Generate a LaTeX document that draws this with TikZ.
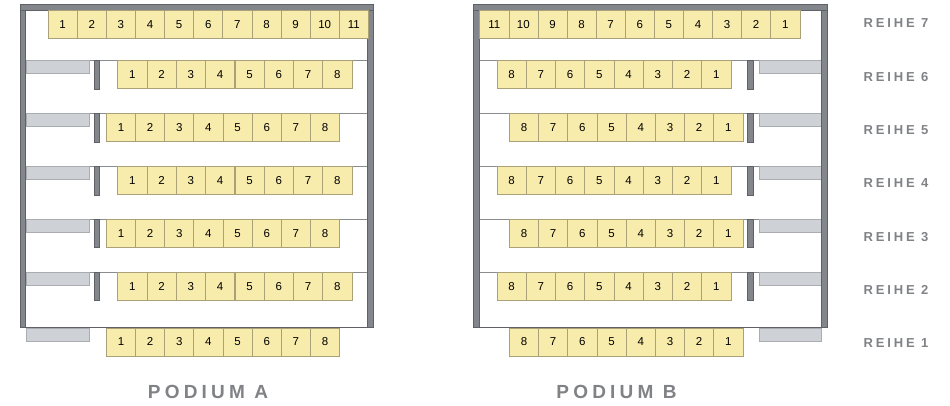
\documentclass[tikz,border=0pt]{standalone}
\usepackage{fontspec}
\setmainfont{Liberation Sans}
\newfontfamily\labelfont[LetterSpace=22]{Liberation Sans}
\newfontfamily\reihefont[LetterSpace=22]{Liberation Sans}
\definecolor{seatfill}{HTML}{F8ECAC}
\definecolor{seatdraw}{HTML}{ABA178}
\definecolor{wallfill}{HTML}{83878B}
\definecolor{walldraw}{HTML}{5E6266}
\definecolor{blockfill}{HTML}{CED1D5}
\definecolor{blockdraw}{HTML}{A9ACB0}
\definecolor{linecol}{HTML}{8A8D90}
\definecolor{textgray}{HTML}{808286}
\begin{document}
\begin{tikzpicture}[x=1pt,y={(0,-1pt)},
  seat/.style={draw=seatdraw, fill=seatfill, line width=0.7pt, minimum width=29.2pt,
    minimum height=28pt, inner sep=0pt, anchor=north west, font=\fontsize{11.5}{13}\selectfont},
  wall/.style={fill=wallfill, draw=walldraw, line width=0.6pt},
  block/.style={fill=blockfill, draw=blockdraw, line width=0.6pt},
  rowline/.style={draw=linecol, line width=0.7pt},
  botline/.style={draw=walldraw, line width=1.2pt},
  podium/.style={text=textgray, font=\labelfont\bfseries\fontsize{19}{22}\selectfont},
  reihe/.style={text=textgray, anchor=west, font=\reihefont\bfseries\fontsize{13}{15}\selectfont}]
\useasboundingbox (0,0) rectangle (950,406);

% ---------- Podium A ----------
\foreach \y in {60.5,113.5,166.5,219,272} {
  \draw[rowline] (25,\y) -- (368,\y);
  \draw[block] (25.8,\y) rectangle (89,\y+13);
  \draw[wall] (94.3,\y) rectangle (99.3,\y+28.5);
}
\draw[block] (25.8,328.3) rectangle (89,341);
\draw[botline] (20,327.5) -- (373,327.5);
\draw[wall] (20,4.3) rectangle (25.3,327.5);
\draw[wall] (367.7,4.3) rectangle (373,327.5);
\draw[wall] (20,4.3) rectangle (373,10.3);

\foreach \i in {1,...,11}
  \node[seat] (a7s\i) at ({47.7+(\i-1)*29.12},10.3) {\i};
\foreach \r/\y in {6/60.5,4/166.5,2/272}
  \foreach \i in {1,...,8}
    \node[seat] (a\r s\i) at ({117.3+(\i-1)*29.3},\y) {\i};
\foreach \r/\y in {5/113.5,3/219,1/327.5}
  \foreach \i in {1,...,8}
    \node[seat] (a\r s\i) at ({106+(\i-1)*29.15},\y) {\i};

\node[podium] (pa) at (208,392) {PODIUM A};

% ---------- Podium B ----------
\foreach \y in {60.5,113.5,166.5,219,272} {
  \draw[rowline] (479,\y) -- (822,\y);
  \draw[block] (759,\y) rectangle (821.2,\y+13);
  \draw[wall] (747.7,\y) rectangle (753.7,\y+28.5);
}
\draw[block] (759,328.3) rectangle (821.2,341);
\draw[botline] (473.3,327.5) -- (827.7,327.5);
\draw[wall] (473.3,4.3) rectangle (479.3,327.5);
\draw[wall] (821.7,4.3) rectangle (827.7,327.5);
\draw[wall] (473.3,4.3) rectangle (827.7,10.3);

\foreach \i in {1,...,11}
  \node[seat] (b7s\i) at ({479.3+(11-\i)*29.1},10.3) {\i};
\foreach \r/\y in {6/60.5,4/166.5,2/272}
  \foreach \i in {1,...,8}
    \node[seat] (b\r s\i) at ({496.7+(8-\i)*29.25},\y) {\i};
\foreach \r/\y in {5/113.5,3/219,1/327.5}
  \foreach \i in {1,...,8}
    \node[seat] (b\r s\i) at ({509+(8-\i)*29.2},\y) {\i};

\node[podium] (pb) at (616.5,392) {PODIUM B};

% ---------- Row labels ----------
\foreach \r/\y in {7/23.5,6/77.3,5/130,4/183.3,3/236.7,2/290,1/343.3}
  \node[reihe] (reihe\r) at (860,\y) {REIHE \r};
\end{tikzpicture}
\end{document}
